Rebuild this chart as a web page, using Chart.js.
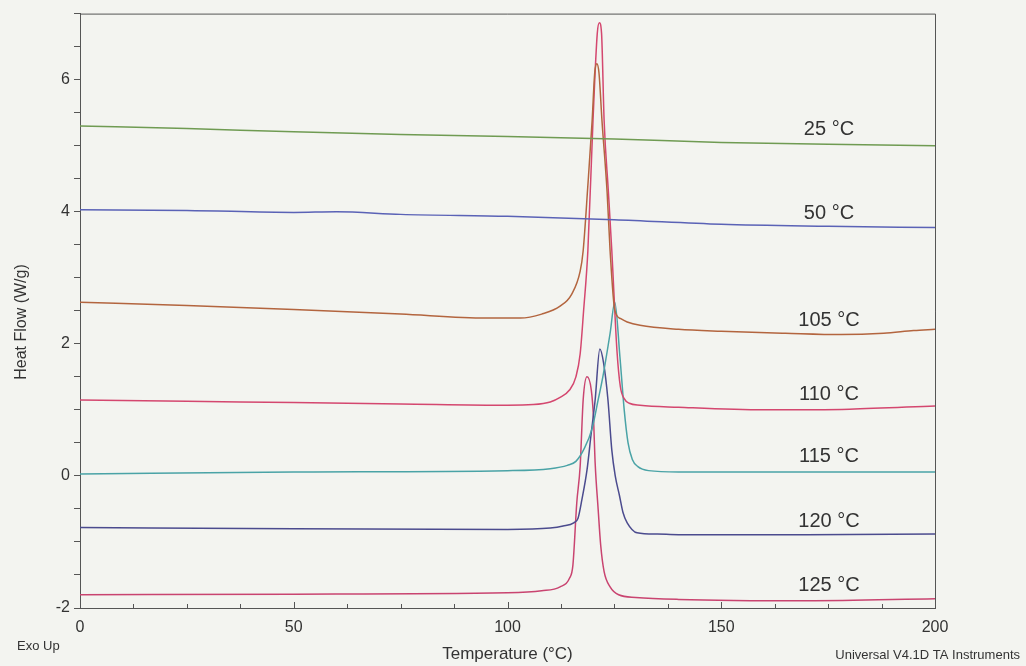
<!DOCTYPE html>
<html>
<head>
<meta charset="utf-8">
<script src="https://cdn.jsdelivr.net/npm/chart.js@4"></script>
<style>
  body { margin: 0; background: #f3f4f0; }
  canvas { display: block; }
</style>
</head>
<body>
<canvas id="dsc" width="1026" height="666"></canvas>
<script>
// curve data (Temperature °C -> Heat Flow W/g)
const t25 = [0, 25, 50, 75, 100, 125, 150, 175, 200];
const hf25 = [5.30, 5.26, 5.21, 5.17, 5.14, 5.10, 5.05, 5.02, 5.00];

const t50 = [0, 25, 50, 60, 75, 100, 125, 150, 175, 200];
const hf50 = [4.03, 4.02, 3.99, 4.00, 3.96, 3.93, 3.88, 3.81, 3.78, 3.76];

const t105 = [0, 25, 50, 75, 95, 103, 108, 112.3, 115, 117, 117.7, 118.8, 119.8, 120.4, 120.9, 121.4, 122.1, 123.3, 124.0, 125.1, 126.5, 128, 131, 140, 150, 165, 178, 188, 195, 200];
const hf105 = [2.63, 2.58, 2.52, 2.45, 2.39, 2.39, 2.45, 2.57, 2.75, 3.10, 3.41, 4.40, 5.38, 6.10, 6.24, 6.10, 5.38, 4.30, 3.41, 2.51, 2.38, 2.33, 2.28, 2.22, 2.19, 2.16, 2.14, 2.16, 2.20, 2.22];

const t110 = [0, 25, 50, 75, 100, 106, 110, 112.3, 114.5, 116, 117, 117.8, 118.8, 120.0, 121.0, 121.5, 122.0, 122.6, 123.6, 124.4, 125.6, 126.4, 127.3, 128.5, 131, 140, 160, 180, 200];
const hf110 = [1.15, 1.13, 1.11, 1.09, 1.07, 1.08, 1.12, 1.19, 1.30, 1.50, 1.85, 2.50, 3.41, 5.38, 6.70, 6.86, 6.70, 5.38, 4.30, 3.41, 1.90, 1.35, 1.17, 1.10, 1.07, 1.04, 1.00, 1.01, 1.06];

const t115 = [0, 50, 100, 110, 114, 116, 118, 119.8, 121.2, 122.3, 124, 125.1, 126.3, 127.3, 128.2, 129.2, 130.5, 133, 140, 170, 200];
const hf115 = [0.03, 0.06, 0.08, 0.11, 0.16, 0.22, 0.42, 0.72, 1.15, 1.50, 2.16, 2.63, 1.80, 1.00, 0.50, 0.25, 0.14, 0.08, 0.06, 0.06, 0.06];

const t120 = [0, 50, 100, 110, 113, 115.5, 116.5, 117.4, 118.6, 119.5, 120.5, 121.6, 122.5, 123.5, 124.4, 125.2, 126.2, 127, 128, 130.3, 135, 140, 170, 200];
const hf120 = [-0.78, -0.80, -0.81, -0.79, -0.76, -0.71, -0.64, -0.36, 0.09, 0.60, 1.15, 1.92, 1.70, 1.15, 0.39, 0.00, -0.30, -0.55, -0.71, -0.86, -0.88, -0.89, -0.89, -0.88];

const t125 = [0, 50, 100, 108, 112.3, 114.5, 115.3, 116.2, 117.0, 117.7, 118.6, 119.6, 120.1, 120.5, 121.2, 121.8, 122.6, 124, 126, 130, 140, 170, 200];
const hf125 = [-1.80, -1.79, -1.77, -1.74, -1.68, -1.55, -1.35, -0.41, 0.15, 1.15, 1.50, 1.30, 0.90, 0.20, -0.50, -1.05, -1.45, -1.68, -1.80, -1.84, -1.87, -1.89, -1.86];

// curve annotations on the right side
const labelText = ['25 °C', '50 °C', '105 °C', '110 °C', '115 °C', '120 °C', '125 °C'];
const labelX = 175.2;
const labelY = [5.24, 3.97, 2.36, 1.24, 0.29, -0.69, -1.66];

const xTickLabels = [0, 50, 100, 150, 200];
const yTickLabels = [-2, 0, 2, 4, 6];

const FONT = '"Liberation Sans", Arial, sans-serif';
const AXIS = '#555';

function pts(xs, ys) {
    return xs.map((v, i) => ({ x: v, y: ys[i] }));
}

function series(xs, ys, color) {
    return {
        data: pts(xs, ys),
        borderColor: color,
        borderWidth: 1.5,
        pointRadius: 0,
        fill: false,
        cubicInterpolationMode: 'monotone'
    };
}

const extras = {
    id: 'extras',
    beforeDraw(chart) {
        const ctx = chart.ctx;
        ctx.save();
        ctx.fillStyle = '#f3f4f0';
        ctx.fillRect(0, 0, chart.width, chart.height);
        ctx.restore();
    },
    afterDraw(chart) {
        const { ctx, chartArea: a, scales } = chart;
        ctx.save();
        // frame top + right
        ctx.strokeStyle = AXIS;
        ctx.lineWidth = 1;
        ctx.beginPath();
        ctx.moveTo(a.left, a.top + 0.5);
        ctx.lineTo(a.right + 0.5, a.top + 0.5);
        ctx.lineTo(a.right + 0.5, a.bottom);
        ctx.stroke();

        // x ticks point into the plot
        ctx.beginPath();
        scales.x.ticks.forEach(t => {
            const px = Math.round(scales.x.getPixelForValue(t.value)) + 0.5;
            const len = xTickLabels.includes(t.value) ? 6 : 4;
            ctx.moveTo(px, a.bottom);
            ctx.lineTo(px, a.bottom - len);
        });
        ctx.stroke();

        ctx.fillStyle = '#333';
        ctx.textAlign = 'center';
        ctx.textBaseline = 'middle';
        ctx.font = '20px ' + FONT;
        labelText.forEach((t, i) => {
            ctx.fillText(t, scales.x.getPixelForValue(labelX), scales.y.getPixelForValue(labelY[i]));
        });

        // y title
        ctx.font = '16px ' + FONT;
        ctx.translate(22, 322);
        ctx.rotate(-Math.PI / 2);
        ctx.fillText('Heat Flow (W/g)', 0, 0);
        ctx.setTransform(1, 0, 0, 1, 0, 0);

        ctx.font = '13px ' + FONT;
        ctx.textAlign = 'left';
        ctx.fillText('Exo Up', 17, 646);
        ctx.textAlign = 'right';
        ctx.fillText('Universal V4.1D TA Instruments', 1020, 655);
        ctx.restore();
    }
};

new Chart(document.getElementById('dsc'), {
    type: 'line',
    data: {
        datasets: [
            series(t25, hf25, '#6f9b52'),
            series(t50, hf50, '#5a62b6'),
            series(t105, hf105, '#b3653f'),
            series(t110, hf110, '#d4476f'),
            series(t115, hf115, '#4aa3a6'),
            series(t120, hf120, '#4b4b8e'),
            series(t125, hf125, '#c94470')
        ]
    },
    options: {
        responsive: false,
        animation: false,
        layout: { padding: { left: 0, right: 91, top: 13, bottom: 0 } },
        plugins: { legend: { display: false }, tooltip: { enabled: false } },
        scales: {
            x: {
                type: 'linear',
                min: 0,
                max: 200,
                afterFit: s => { s.height = 58; },
                border: { color: AXIS },
                grid: { display: false },
                ticks: {
                    stepSize: 12.5,
                    autoSkip: false,
                    maxRotation: 0,
                    padding: 2,
                    color: '#333',
                    font: { family: FONT, size: 16 },
                    callback: v => xTickLabels.includes(v) ? v : ''
                },
                title: {
                    display: true,
                    text: 'Temperature (°C)',
                    color: '#333',
                    font: { family: FONT, size: 17 },
                    padding: { top: 0, bottom: 1 }
                }
            },
            y: {
                type: 'linear',
                min: -2,
                max: 7,
                afterFit: s => { s.width = 80; },
                border: { color: AXIS },
                grid: { drawOnChartArea: false, color: AXIS, tickLength: 6 },
                ticks: {
                    stepSize: 0.5,
                    autoSkip: false,
                    padding: 4,
                    color: '#333',
                    font: { family: FONT, size: 16 },
                    callback: v => yTickLabels.includes(v) ? v : ''
                }
            }
        }
    },
    plugins: [extras]
});
</script>
</body>
</html>
